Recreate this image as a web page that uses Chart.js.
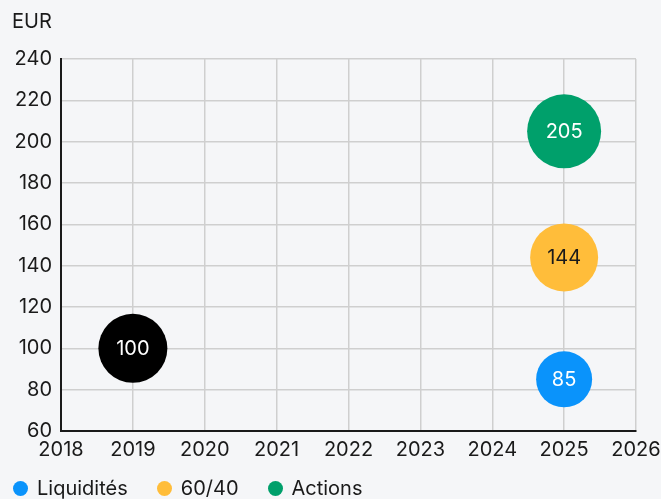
<!DOCTYPE html>
<html>
<head>
<meta charset="utf-8">
<script src="https://cdn.jsdelivr.net/npm/chart.js@4"></script>
<style>
  html, body { margin: 0; padding: 0; background: #f5f6f8; }
  .wrap { position: relative; width: 661px; height: 499px; }
  canvas { display: block; }
  #legend {
    position: absolute; left: 13px; top: 476px;
    display: flex; align-items: center; white-space: nowrap;
    font: 20px Inter, "Noto Sans", sans-serif; line-height: 24px; color: #1a1a1a;
  }
  #legend span.item { display: flex; align-items: center; margin-right: 29px; }
  #legend span.dot { display: block; flex: 0 0 15px; width: 15px; height: 15px; border-radius: 50%; margin-right: 9px; }
</style>
</head>
<body>
<div class="wrap">
  <canvas id="chart" width="661" height="499"></canvas>
  <div id="legend"></div>
</div>
<script>
const yearTicks = [2018, 2019, 2020, 2021, 2022, 2023, 2024, 2025, 2026]
const eurTicks = [60, 80, 100, 120, 140, 160, 180, 200, 220, 240]

// point de départ (hors légende)
const startYear = [2019]
const startValue = [100]

const seriesNames = ['Liquidités', '60/40', 'Actions']
const seriesYears = [[2025], [2025], [2025]]
const seriesValues = [[85], [144], [205]]
const seriesSizes = [28, 34, 37]
const seriesColors = ['#0a93fb', '#ffbd3a', '#00a06b']
const labelColors = ['#ffffff', '#1a1a1a', '#ffffff']

const textColor = '#1a1a1a'
const fontFamily = 'Inter, "Noto Sans", sans-serif'
Chart.defaults.font.family = fontFamily
Chart.defaults.font.size = 20
Chart.defaults.color = textColor

// the bubbles stay well inside the plot, no extra margin for their radius
Chart.BubbleController.prototype.getMaxOverflow = () => 0

const datasets = seriesNames.map((name, i) => ({
  label: name,
  data: seriesYears[i].map((x, j) => ({ x: x, y: seriesValues[i][j], r: seriesSizes[i] })),
  backgroundColor: seriesColors[i],
  borderWidth: 0,
  valueColor: labelColors[i]
}))
datasets.push({
  label: 'start',
  data: startYear.map((x, j) => ({ x: x, y: startValue[j], r: 34.5 })),
  backgroundColor: '#000000',
  borderWidth: 0,
  valueColor: '#ffffff'
})

// écrit la valeur au centre de chaque bulle
const bubbleValues = {
  id: 'bubbleValues',
  afterDatasetsDraw(chart) {
    const ctx = chart.ctx
    ctx.save()
    ctx.font = '20px ' + fontFamily
    ctx.textAlign = 'center'
    ctx.textBaseline = 'middle'
    chart.data.datasets.forEach((ds, i) => {
      chart.getDatasetMeta(i).data.forEach((el, j) => {
        ctx.fillStyle = ds.valueColor
        ctx.fillText(String(ds.data[j].y), el.x, el.y + 1)
      })
    })
    ctx.restore()
  }
}

const yAxisUnit = {
  id: 'yAxisUnit',
  afterDraw(chart) {
    const ctx = chart.ctx
    ctx.save()
    ctx.font = '20px ' + fontFamily
    ctx.fillStyle = textColor
    ctx.textBaseline = 'middle'
    ctx.fillText('EUR', 12, 22)
    ctx.restore()
  }
}

const chart = new Chart(document.querySelector('#chart'), {
  type: 'bubble',
  data: { datasets: datasets },
  plugins: [bubbleValues, yAxisUnit],
  options: {
    responsive: false,
    animation: false,
    layout: { padding: { top: 59, left: 0, right: 25, bottom: 30 } },
    scales: {
      x: {
        type: 'linear',
        min: yearTicks[0],
        max: yearTicks[yearTicks.length - 1],
        afterBuildTicks: scale => { scale.ticks = yearTicks.map(v => ({ value: v })) },
        afterFit: scale => {
          scale.paddingLeft = 0
          scale.paddingRight = 0
        },
        ticks: { callback: v => String(v), padding: 7, maxRotation: 0 },
        grid: { color: '#cfcfcf', lineWidth: 1.5, drawTicks: false },
        border: { color: '#1a1a1a', width: 2 }
      },
      y: {
        min: eurTicks[0],
        max: eurTicks[eurTicks.length - 1],
        afterBuildTicks: scale => { scale.ticks = eurTicks.map(v => ({ value: v })) },
        afterFit: scale => { scale.width = 61 },
        ticks: { padding: 9 },
        grid: { color: '#cfcfcf', lineWidth: 1.5, drawTicks: false },
        border: { color: '#1a1a1a', width: 2 }
      }
    },
    plugins: {
      tooltip: { enabled: false },
      legend: { display: false }
    }
  }
})

// légende sous le graphique, une pastille par série
const legendBox = document.querySelector('#legend')
chart.data.datasets.slice(0, seriesNames.length).forEach(ds => {
  const item = document.createElement('span')
  item.className = 'item'
  const dot = document.createElement('span')
  dot.className = 'dot'
  dot.style.background = ds.backgroundColor
  item.appendChild(dot)
  item.appendChild(document.createTextNode(ds.label))
  legendBox.appendChild(item)
})
</script>
</body>
</html>
